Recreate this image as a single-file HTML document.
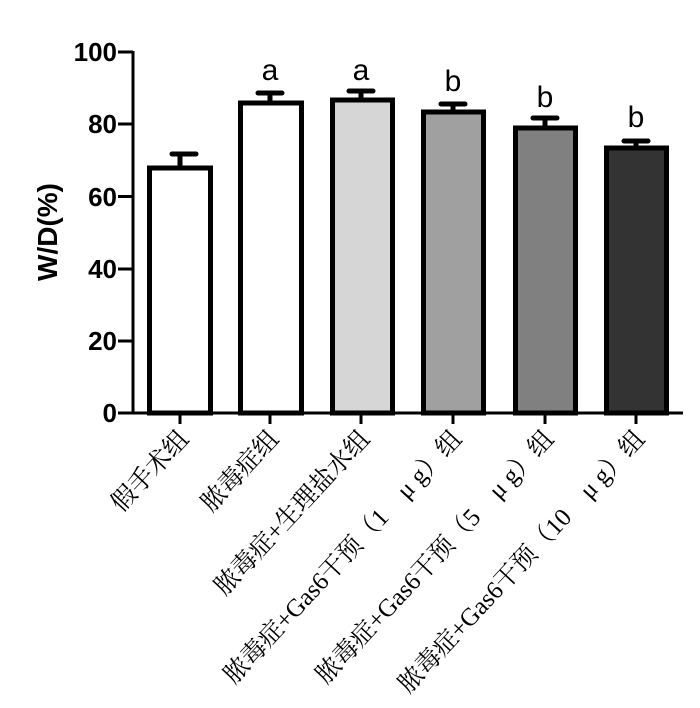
<!DOCTYPE html>
<html><head><meta charset="utf-8"><style>html,body{margin:0;padding:0;background:#fff;}</style></head>
<body>
<svg width="700" height="703" viewBox="0 0 700 703" xmlns="http://www.w3.org/2000/svg">
<rect width="700" height="703" fill="#fff"/>
<g stroke="#000" stroke-width="3" fill="none">
<line x1="133" y1="51" x2="133" y2="414"/>
<line x1="131.5" y1="413" x2="683" y2="413"/>
<line x1="118" y1="52" x2="133" y2="52"/>
<line x1="118" y1="124" x2="133" y2="124"/>
<line x1="118" y1="196.5" x2="133" y2="196.5"/>
<line x1="118" y1="269" x2="133" y2="269"/>
<line x1="118" y1="341" x2="133" y2="341"/>
<line x1="118" y1="413" x2="133" y2="413"/>
<line x1="180" y1="413" x2="180" y2="424"/>
<line x1="270" y1="413" x2="270" y2="424"/>
<line x1="361" y1="413" x2="361" y2="424"/>
<line x1="453" y1="413" x2="453" y2="424"/>
<line x1="545" y1="413" x2="545" y2="424"/>
<line x1="636" y1="413" x2="636" y2="424"/>
</g>
<g font-family="Liberation Sans, Arial, sans-serif" font-weight="bold" font-size="26" text-anchor="end" fill="#000">
<text x="117" y="61">100</text>
<text x="117" y="133">80</text>
<text x="117" y="206">60</text>
<text x="117" y="278">40</text>
<text x="117" y="350">20</text>
<text x="117" y="422">0</text>
</g>
<text transform="translate(57,232) rotate(-90)" font-family="Liberation Sans, Arial, sans-serif" font-weight="bold" font-size="28" text-anchor="middle">W/D(%)</text>
<g stroke="#000" stroke-width="5" stroke-linecap="round">
<line x1="180" y1="168" x2="180" y2="154"/><line x1="172" y1="154" x2="196" y2="154"/>
<line x1="270" y1="103" x2="270" y2="93"/><line x1="258" y1="93" x2="282" y2="93"/>
<line x1="361" y1="100" x2="361" y2="91"/><line x1="349" y1="91" x2="373" y2="91"/>
<line x1="453" y1="112" x2="453" y2="104"/><line x1="441" y1="104" x2="465" y2="104"/>
<line x1="545" y1="128" x2="545" y2="118"/><line x1="533" y1="118" x2="557" y2="118"/>
<line x1="636" y1="148" x2="636" y2="141"/><line x1="624" y1="141" x2="648" y2="141"/>
</g>
<g stroke="#000" stroke-width="5">
<rect x="149.5" y="168" width="61" height="245" fill="#fff"/>
<rect x="240.5" y="103" width="61" height="310" fill="#fff"/>
<rect x="332.5" y="100" width="60" height="313" fill="#d6d6d6"/>
<rect x="423.5" y="112" width="60" height="301" fill="#a0a0a0"/>
<rect x="515.5" y="128" width="60" height="285" fill="#808080"/>
<rect x="606.5" y="148" width="60" height="265" fill="#333333"/>
</g>
<g font-family="Liberation Sans, Arial, sans-serif" font-size="30" text-anchor="middle" fill="#000">
<text x="270" y="80">a</text>
<text x="361" y="80">a</text>
<text x="453" y="91">b</text>
<text x="545" y="107">b</text>
<text x="636" y="127">b</text>
</g>
<g font-family="Liberation Serif, 'Noto Serif CJK SC', serif" font-size="25" text-anchor="end" fill="#000">
<text transform="translate(190,440) rotate(-47)">假手术组</text>
<text transform="translate(280,440) rotate(-47)">脓毒症组</text>
<text transform="translate(371,440) rotate(-47)">脓毒症+生理盐水组</text>
<text transform="translate(463,440) rotate(-47)">脓毒症+Gas6干预（1　μ g）组</text>
<text transform="translate(555,440) rotate(-47)">脓毒症+Gas6干预（5　μ g）组</text>
<text transform="translate(646,440) rotate(-47)">脓毒症+Gas6干预（10　μ g）组</text>
</g>
</svg>
</body></html>
